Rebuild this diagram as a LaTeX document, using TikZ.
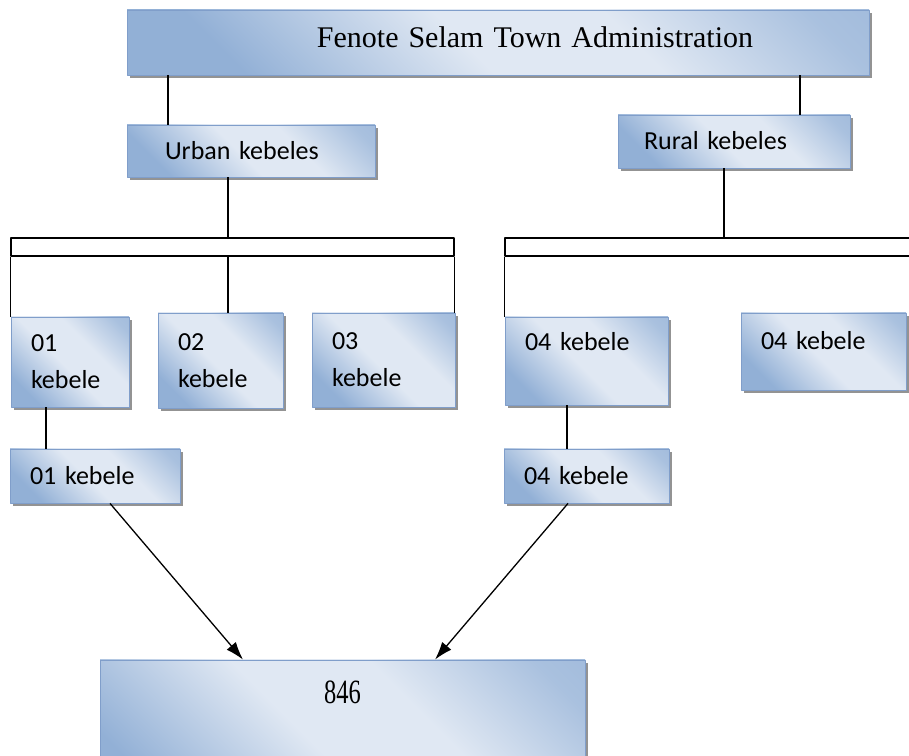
\documentclass[tikz,border=0pt]{standalone}
\usepackage{fontspec}
\setmainfont[WordSpace=0.7]{Liberation Serif}
\newfontfamily\kebfont{Carlito}
\newfontfamily\numfont[FakeStretch=0.72]{Liberation Serif}
\usetikzlibrary{shadows,arrows.meta}
\definecolor{kdark}{RGB}{146,176,214}
\definecolor{klight}{RGB}{224,232,243}
\definecolor{kline}{RGB}{128,158,202}
\pgfdeclarehorizontalshading{kshade}{100bp}{color(0bp)=(kdark); color(25bp)=(kdark); color(47bp)=(klight); color(62bp)=(klight); color(80bp)=(kdark!70!klight); color(100bp)=(kdark)}
\tikzset{
  kbox/.style={draw=kline,line width=0.8bp,rectangle,shading=kshade,shading angle=45,
    drop shadow={shadow xshift=2.5bp,shadow yshift=-3bp,fill=black!50,opacity=.85},
    font=\kebfont\fontsize{26bp}{37bp}\selectfont,align=left,inner xsep=20bp,inner ysep=0pt},
  onerow/.style={text height=16.5bp,text depth=#1},
  bar/.style={draw,rectangle,line width=1.3bp,inner sep=0pt,minimum height=18bp},
}
\begin{document}
\begin{tikzpicture}[>={Latex[length=18bp,width=12bp]},line width=1.3bp,line join=bevel]
        %%
        \useasboundingbox (0,0) rectangle (909bp,756bp);
        \clip (0,0) rectangle (909bp,756bp);
        \node (admin) at (498.0bp,713.5bp) [kbox,font=\rmfamily\fontsize{30bp}{36bp}\selectfont,align=center,text width=702bp,minimum height=65bp,text height=20bp,text depth=9bp] {\hspace*{74bp}Fenote Selam Town Administration};
        \node (urban) at (251.0bp,605.0bp) [kbox,inner xsep=38bp,text width=172bp,minimum height=52bp,onerow=0bp] {Urban kebeles};
        \node (rural) at (734.0bp,614.5bp) [kbox,inner xsep=26bp,text width=180bp,minimum height=53bp,onerow=0bp] {Rural kebeles};
        \node (ubar) at (232.5bp,509.0bp) [bar,minimum width=443bp] {};
        \node (rbar) at (727.5bp,509.0bp) [bar,minimum width=445bp] {};
        \node (k01) at (70.0bp,394.0bp) [kbox,text width=78bp,minimum height=90bp] {01\\kebele};
        \node (k02) at (220.5bp,395.5bp) [kbox,text width=85bp,minimum height=95bp] {02\\kebele};
        \node (k03) at (383.5bp,396.0bp) [kbox,text width=103bp,minimum height=94bp] {03\\kebele};
        \node (k04a) at (586.5bp,395.0bp) [kbox,text width=123bp,minimum height=88bp,onerow=37bp] {04 kebele};
        \node (k04b) at (823.5bp,404.5bp) [kbox,text width=125bp,minimum height=77bp,onerow=21bp] {04 kebele};
        \node (l01) at (95.0bp,280.0bp) [kbox,text width=130bp,minimum height=54bp,onerow=0bp] {01 kebele};
        \node (l04) at (586.5bp,280.0bp) [kbox,text width=125bp,minimum height=54bp,onerow=0bp] {04 kebele};
        \node (total) at (342.5bp,11.0bp) [kbox,font=\numfont\fontsize{34bp}{40bp}\selectfont,align=center,text width=445bp,minimum height=170bp,text height=23bp,text depth=106bp] {846};
        \coordinate (xa) at (168.0bp,0bp);
        \coordinate (xb) at (800.0bp,0bp);
        \coordinate (xu) at (228.0bp,0bp);
        \coordinate (xr) at (724.0bp,0bp);
        \coordinate (x1) at (46.0bp,0bp);
        \coordinate (x4) at (567.0bp,0bp);
        \draw [] (admin.south -| xa) -- (urban.north -| xa);
        \draw [] (admin.south -| xb) -- (rural.north -| xb);
        \draw [] (urban.south -| xu) -- (ubar.north -| xu);
        \draw [] (rural.south -| xr) -- (rbar.north -| xr);
        \draw [] (ubar.south west) -- (ubar.south west |- k01.north);
        \draw [] (ubar.south -| xu) -- (k02.north -| xu);
        \draw [] (ubar.south east) -- (ubar.south east |- k03.north);
        \draw [] (rbar.south west) -- (rbar.south west |- k04a.north);
        \draw [] (k01.south -| x1) -- (l01.north -| x1);
        \draw [] (k04a.south -| x4) -- (l04.north -| x4);
        \draw [->] ([xshift=15bp]l01.south) -- ([xshift=-99.5bp]total.north);
        \draw [->] ([xshift=-18.5bp]l04.south) -- ([xshift=92.5bp]total.north);
        %
    \end{tikzpicture}
\end{document}
